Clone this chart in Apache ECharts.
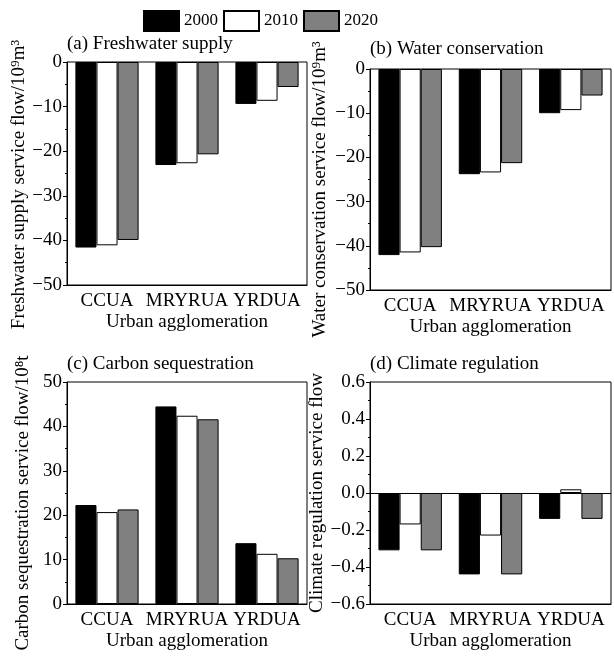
<!DOCTYPE html>
<html>
<head>
<meta charset="utf-8">
<script src="https://cdn.jsdelivr.net/npm/echarts@6/dist/echarts.min.js"></script>
<style>html,body{margin:0;padding:0;background:#fff}#c{width:614px;height:656px}</style>
</head>
<body>
<div id="c"></div>
<script>
const categories = ['CCUA', 'MRYRUA', 'YRDUA'];
const years = ['2000', '2010', '2020'];
const freshwater2000 = [-41.6, -23.1, -9.4];
const freshwater2010 = [-41.1, -22.7, -8.7];
const freshwater2020 = [-39.9, -20.7, -5.6];
const conservation2000 = [-42.1, -23.8, -10.0];
const conservation2010 = [-41.5, -23.4, -9.3];
const conservation2020 = [-40.3, -21.3, -6.0];
const carbon2000 = [22.3, 44.5, 13.7];
const carbon2010 = [20.7, 42.4, 11.3];
const carbon2020 = [21.3, 41.6, 10.3];
const climate2000 = [-0.31, -0.44, -0.14];
const climate2010 = [-0.17, -0.23, 0.02];
const climate2020 = [-0.31, -0.44, -0.14];
const panelTitles = ['(a) Freshwater supply', '(b) Water conservation', '(c) Carbon sequestration', '(d) Climate regulation'];
const yNames = ['Freshwater supply service flow/10\u2079m\u00b3', 'Water conservation service flow/10\u2079m\u00b3', 'Carbon sequestration service flow/10\u2078t', 'Climate regulation service flow'];
const xName = 'Urban agglomeration';
const yRanges = [[-50, 0, 10], [-50, 0, 10], [0, 50, 10], [-0.6, 0.6, 0.2]];

const FONT = 'Liberation Serif';
const FS = 19;
const colors = ['#000000', '#ffffff', '#808080'];
const panelData = [
  [freshwater2000, freshwater2010, freshwater2020],
  [conservation2000, conservation2010, conservation2020],
  [carbon2000, carbon2010, carbon2020],
  [climate2000, climate2010, climate2020]
];
const grids = [
  {left: 67, top: 62, width: 240, height: 223},
  {left: 370, top: 69, width: 241, height: 221},
  {left: 67, top: 382, width: 240, height: 222},
  {left: 370, top: 382, width: 241, height: 222}
];
const titlePos = [[67, 46], [370, 51], [67, 366], [370, 366]];
const yNameGap = [34, 40, 34, 34];
const yNameShift = [22, 20, 20, 0];

const xAxis = [], yAxis = [], series = [], graphic = [];
grids.forEach((g, i) => {
  g.show = true; g.borderColor = '#000'; g.borderWidth = 1; g.containLabel = false;
  xAxis.push({
    type: 'category', gridIndex: i, data: categories, position: 'bottom',
    name: xName, nameLocation: 'middle', nameGap: 28,
    nameTextStyle: {fontFamily: FONT, fontSize: FS, color: '#000'},
    axisLine: {onZero: false, lineStyle: {color: '#000', width: 1}},
    axisTick: {inside: true, length: 4, lineStyle: {color: '#000'}},
    axisLabel: {fontFamily: FONT, fontSize: FS, color: '#000', margin: 7, interval: 0},
    splitLine: {show: false}
  });
  xAxis.push({
    type: 'category', gridIndex: i, data: categories, position: 'bottom',
    axisLine: {show: false, onZero: false},
    axisTick: {inside: true, alignWithLabel: true, length: 4, lineStyle: {color: '#000'}},
    axisLabel: {show: false}, splitLine: {show: false}
  });
  const r = yRanges[i];
  yAxis.push({
    type: 'value', gridIndex: i, min: r[0], max: r[1], interval: r[2],
    name: yNames[i], nameLocation: 'middle', nameGap: yNameGap[i],
    nameTextStyle: {fontFamily: FONT, fontSize: FS, color: '#000', padding: [0, yNameShift[i], 0, 0]},
    axisLine: {show: true, lineStyle: {color: '#000', width: 1}},
    axisTick: {show: true, inside: false, length: 4, lineStyle: {color: '#000'}},
    minorTick: {show: true, splitNumber: 2, length: 2, lineStyle: {color: '#000'}},
    axisLabel: {fontFamily: FONT, fontSize: FS, color: '#000', margin: 5,
      formatter: v => (i === 3 ? Math.abs(v) < 1e-9 ? '0.0' : v.toFixed(1) : String(Math.round(v))).replace('-', '\u2212')},
    splitLine: {show: false}
  });
  panelData[i].forEach((arr, k) => {
    const s = {
      type: 'bar', name: years[k], xAxisIndex: i * 2, yAxisIndex: i, data: arr,
      barGap: '0%', barCategoryGap: '21%',
      itemStyle: {color: colors[k], borderColor: '#000', borderWidth: 1},
      emphasis: {disabled: true}, animation: false
    };
    if (i === 3 && k === 0) {
      s.markLine = {silent: true, symbol: 'none', label: {show: false},
        lineStyle: {color: '#000', width: 1, type: 'solid'}, data: [{yAxis: 0}], animation: false};
    }
    series.push(s);
  });
  graphic.push({type: 'text', left: titlePos[i][0], top: titlePos[i][1] - 11,
    style: {text: panelTitles[i], font: FS + 'px "' + FONT + '"', fill: '#000'}});
});

const chart = echarts.init(document.getElementById('c'));
chart.setOption({
  animation: false,
  grid: grids, xAxis, yAxis, series, graphic,
  legend: {
    data: years, left: 138, top: 5, itemWidth: 35, itemHeight: 20, itemGap: 5,
    icon: 'rect', textStyle: {fontFamily: FONT, fontSize: 17, color: '#000'}
  }
});
</script>
</body>
</html>
